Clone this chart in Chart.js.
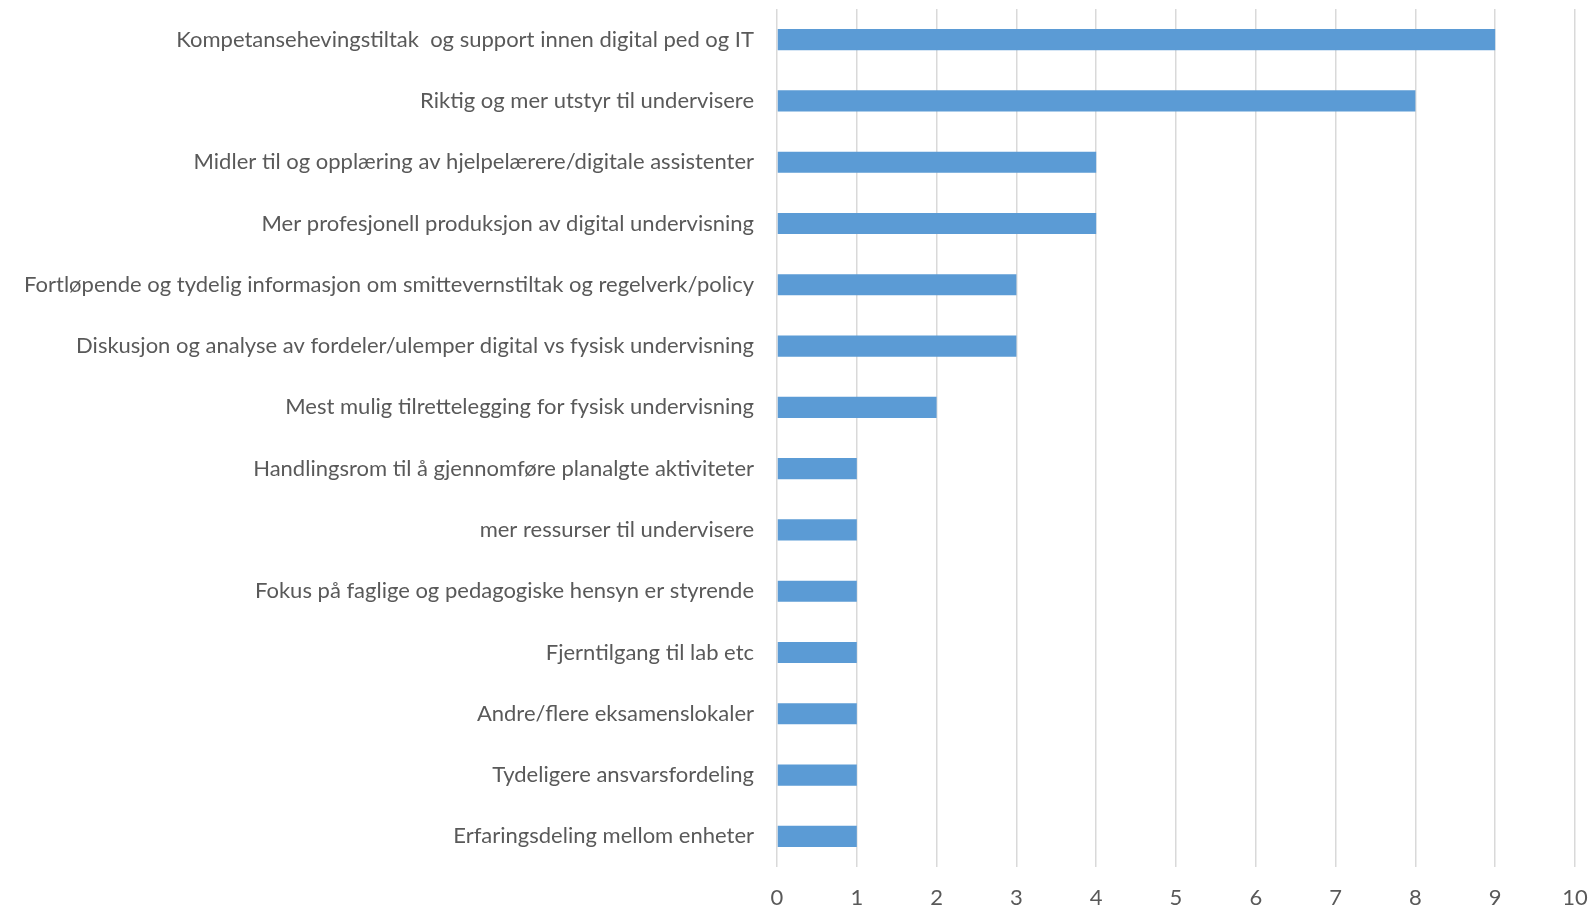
<!DOCTYPE html>
<html>
<head>
<meta charset="utf-8">
<script src="https://cdn.jsdelivr.net/npm/chart.js@4.4.1/dist/chart.umd.min.js"></script>
<style>
  html, body { margin: 0; padding: 0; background: #fff; }
  #wrap { width: 1591px; height: 909px; position: relative; }
</style>
</head>
<body>
<div id="wrap"><canvas id="chart"></canvas></div>
<script>
// tiltak / behov (kategorier) og antall svar
const categories = [
  'Kompetansehevingstiltak  og support innen digital ped og IT',
  'Riktig og mer utstyr til undervisere',
  'Midler til og opplæring av hjelpelærere/digitale assistenter',
  'Mer profesjonell produksjon av digital undervisning',
  'Fortløpende og tydelig informasjon om smittevernstiltak og regelverk/policy',
  'Diskusjon og analyse av fordeler/ulemper digital vs fysisk undervisning',
  'Mest mulig tilrettelegging for fysisk undervisning',
  'Handlingsrom til å gjennomføre planalgte aktiviteter',
  'mer ressurser til undervisere',
  'Fokus på faglige og pedagogiske hensyn er styrende',
  'Fjerntilgang til lab etc',
  'Andre/flere eksamenslokaler',
  'Tydeligere ansvarsfordeling',
  'Erfaringsdeling mellom enheter'
];
const counts = [9, 8, 4, 4, 3, 3, 2, 1, 1, 1, 1, 1, 1, 1];
const xTicks = [0, 1, 2, 3, 4, 5, 6, 7, 8, 9, 10];

const fontFamily = 'Lato, "Open Sans", sans-serif';

new Chart(document.getElementById('chart'), {
  type: 'bar',
  data: {
    labels: categories,
    datasets: [{
      data: counts,
      backgroundColor: '#5b9bd5',
      borderWidth: 0,
      categoryPercentage: 1,
      barPercentage: 0.345
    }]
  },
  options: {
    indexAxis: 'y',
    responsive: true,
    maintainAspectRatio: false,
    animation: false,
    layout: { padding: { top: 9, right: 16, bottom: 0, left: 0 } },
    plugins: { legend: { display: false }, tooltip: { enabled: false } },
    scales: {
      x: {
        min: 0, max: 10,
        afterBuildTicks: s => { s.ticks = xTicks.map(v => ({ value: v })); },
        afterFit: s => { s.height = 42; s.paddingLeft = 0; s.paddingRight = 0; },
        grid: { color: '#d9d9d9', lineWidth: 1.5, drawTicks: false },
        border: { display: false },
        ticks: { color: '#595959', padding: 18, font: { family: fontFamily, size: 22 } }
      },
      y: {
        afterFit: s => { s.width = 777; s.paddingTop = 0; s.paddingBottom = 0; },
        grid: { display: false },
        border: { display: false },
        ticks: { color: '#595959', padding: 15, font: { family: fontFamily, size: 22 } }
      }
    }
  }
});
</script>
</body>
</html>
